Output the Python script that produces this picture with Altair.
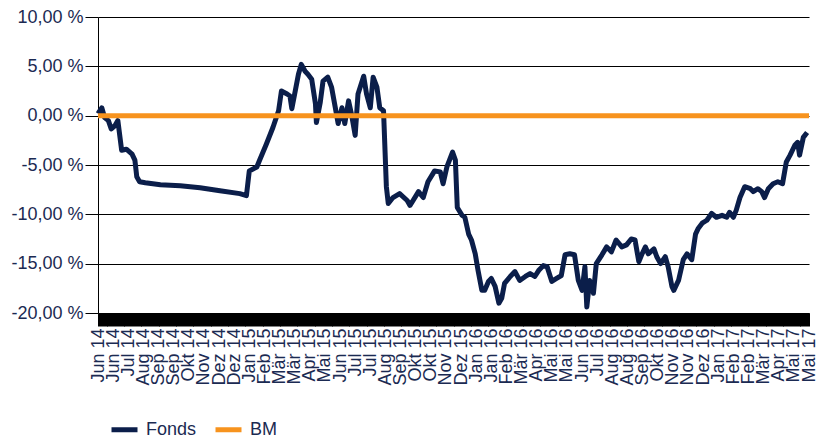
import json
import altair as alt
import pandas as pd

# ---- data (trading-day index, performance in %) ----
DAY = [0, 4, 7, 11, 14, 18, 21, 25, 30, 36, 39, 41, 44, 50, 66, 87, 108, 129, 150, 157,
       160, 168, 171, 178, 185, 191, 194, 200, 203, 205, 208, 212, 215, 219, 222, 226,
       230, 231, 235, 238, 243, 247, 251, 254, 258, 261, 265, 268, 272, 275, 281, 284,
       288, 291, 295, 298, 302, 305, 307, 312, 319, 327, 330, 339, 344, 349, 356, 362,
       365, 369, 375, 378, 380, 385, 388, 392, 395, 399, 402, 406, 409, 413, 416, 420,
       424, 427, 430, 436, 441, 446, 452, 457, 462, 466, 471, 475, 480, 485, 490, 494,
       499, 504, 508, 512, 515, 517, 520, 524, 527, 533, 538, 543, 548, 554, 559, 564,
       568, 572, 575, 579, 582, 588, 591, 595, 600, 603, 607, 609, 614, 619, 623, 628,
       632, 635, 639, 644, 649, 654, 660, 665, 668, 672, 675, 679, 684, 690, 693, 698,
       702, 705, 709, 714, 719, 724, 728, 732, 737, 740, 742, 746, 750]
FONDS = [0.2, 0.8, -0.2, -0.5, -1.35, -1.0, -0.5, -3.5, -3.4, -3.9, -4.5, -6.2, -6.7, -6.8, -7.0, -7.1, -7.3, -7.6, -7.9, -8.1,
         -5.6, -5.2, -4.5, -2.9, -1.2, 0.5, 2.5, 2.2, 2.0, 0.7, 2.2, 4.2, 5.2, 4.5, 4.2, 3.7,
         1.2, -0.7, 1.3, 3.5, 3.9, 2.9, 0.8, -0.8, 0.8, -0.8, 1.5, 0.2, -2.0, 2.2, 4.0, 2.2,
         0.8, 3.9, 2.9, 0.8, 0.5, -7.2, -8.9, -8.3, -7.9, -8.6, -9.1, -7.7, -8.3, -6.7, -5.6, -5.7,
         -6.9, -5.2, -3.7, -4.5, -9.3, -10.1, -10.3, -12.0, -12.6, -14.0, -15.7, -17.7, -17.7, -16.8, -16.5, -17.3,
         -19.0, -18.5, -17.0, -16.3, -15.8, -16.7, -16.3, -16.0, -16.3, -15.7, -15.2, -15.3, -16.8, -16.5, -16.2, -14.1,
         -14.0, -14.1, -16.7, -17.7, -15.3, -19.4, -16.7, -18.0, -15.0, -14.1, -13.3, -13.8, -12.6, -13.3, -13.1, -12.5,
         -12.6, -14.8, -14.1, -13.3, -14.0, -13.5, -14.3, -15.0, -14.3, -15.3, -17.3, -17.7, -16.7, -14.6, -14.0, -14.6,
         -12.0, -11.4, -10.9, -10.6, -9.9, -10.3, -10.1, -10.3, -9.8, -10.3, -9.6, -8.3, -7.2, -7.4, -7.7, -7.4,
         -7.7, -8.3, -7.4, -6.9, -6.7, -6.9, -4.7, -4.0, -3.0, -2.7, -4.0, -2.2, -1.7]
BM_DAY = [0, 752]
BM = [0.0, 0.0]

TICK_LABELS = ["Jun 14", "Jun 14", "Jul 14", "Aug 14", "Sep 14", "Sep 14", "Okt 14", "Nov 14", "Dez 14", "Dez 14",
               "Jan 15", "Feb 15", "Mär 15", "Mär 15", "Apr 15", "Mai 15", "Jun 15", "Jul 15", "Jul 15", "Aug 15",
               "Sep 15", "Okt 15", "Okt 15", "Nov 15", "Dez 15",
               "Jan 16", "Jan 16", "Feb 16", "Mär 16", "Apr 16", "Mai 16", "Mai 16", "Jun 16", "Jul 16", "Aug 16",
               "Aug 16", "Sep 16", "Okt 16", "Nov 16", "Nov 16", "Dez 16",
               "Jan 17", "Feb 17", "Feb 17", "Mär 17", "Apr 17", "Mai 17", "Mai 17"]
LABEL_STEP = 16
N_DAYS = LABEL_STEP * (len(TICK_LABELS) - 1)
Y_TICKS = [-20, -15, -10, -5, 0, 5, 10]
SERIES = ["Fonds", "BM"]

NAVY = "#0b1e4a"
ORANGE = "#f7931e"
TEXT = "#1b2a52"
FONT = "Liberation Sans"

df = pd.concat([
    pd.DataFrame({"day": DAY, "value": FONDS, "series": "Fonds"}),
    pd.DataFrame({"day": BM_DAY, "value": BM, "series": "BM"}),
])

x_label_expr = (
    f"datum.value % {LABEL_STEP} === 0 ? "
    f"{json.dumps(TICK_LABELS, ensure_ascii=False)}[datum.value / {LABEL_STEP}] : ''"
)
y_label_expr = "(datum.value < 0 ? '-' : '') + replace(format(abs(datum.value), '.2f'), '.', ',') + ' %'"

base = alt.Chart(df).mark_line(strokeWidth=5, strokeJoin="round", strokeCap="butt").encode(
    x=alt.X("day:Q",
            scale=alt.Scale(domain=[0, N_DAYS], nice=False, zero=False),
            axis=alt.Axis(values=list(range(N_DAYS + 1)), labelExpr=x_label_expr,
                          labelAngle=-90, labelOverlap=False, labelFontSize=18,
                          labelColor=TEXT, labelPadding=2, tickSize=13, tickColor="black",
                          tickWidth=1, domainColor="black", grid=False, title=None)),
    y=alt.Y("value:Q",
            scale=alt.Scale(domain=[-20, 10], nice=False),
            axis=alt.Axis(values=Y_TICKS, labelExpr=y_label_expr, labelFontSize=18,
                          labelColor=TEXT, labelPadding=2, tickSize=13, tickColor="black",
                          domainColor="black", grid=True, gridColor="black", gridOpacity=1,
                          gridWidth=1, title=None)),
    color=alt.Color("series:N",
                    scale=alt.Scale(domain=SERIES, range=[NAVY, ORANGE]),
                    legend=alt.Legend(orient="none", legendX=11, legendY=397,
                                      direction="horizontal", title=None,
                                      symbolType="stroke", symbolStrokeWidth=5,
                                      symbolSize=676, labelFontSize=18, labelColor=TEXT,
                                      labelOffset=6, columnPadding=8, padding=0)),
)

fonds = base.transform_filter(alt.datum.series == "Fonds")
bm = base.transform_filter(alt.datum.series == "BM")

chart = alt.layer(fonds, bm).properties(
    width=711, height=296,
    padding={"left": 90, "top": 9, "right": 9, "bottom": 150},
    autosize=alt.AutoSizeParams(type="none"),
).configure(font=FONT).configure_view(stroke=None)

chart.save("out.html", embed_options={"renderer": "svg", "actions": False})
